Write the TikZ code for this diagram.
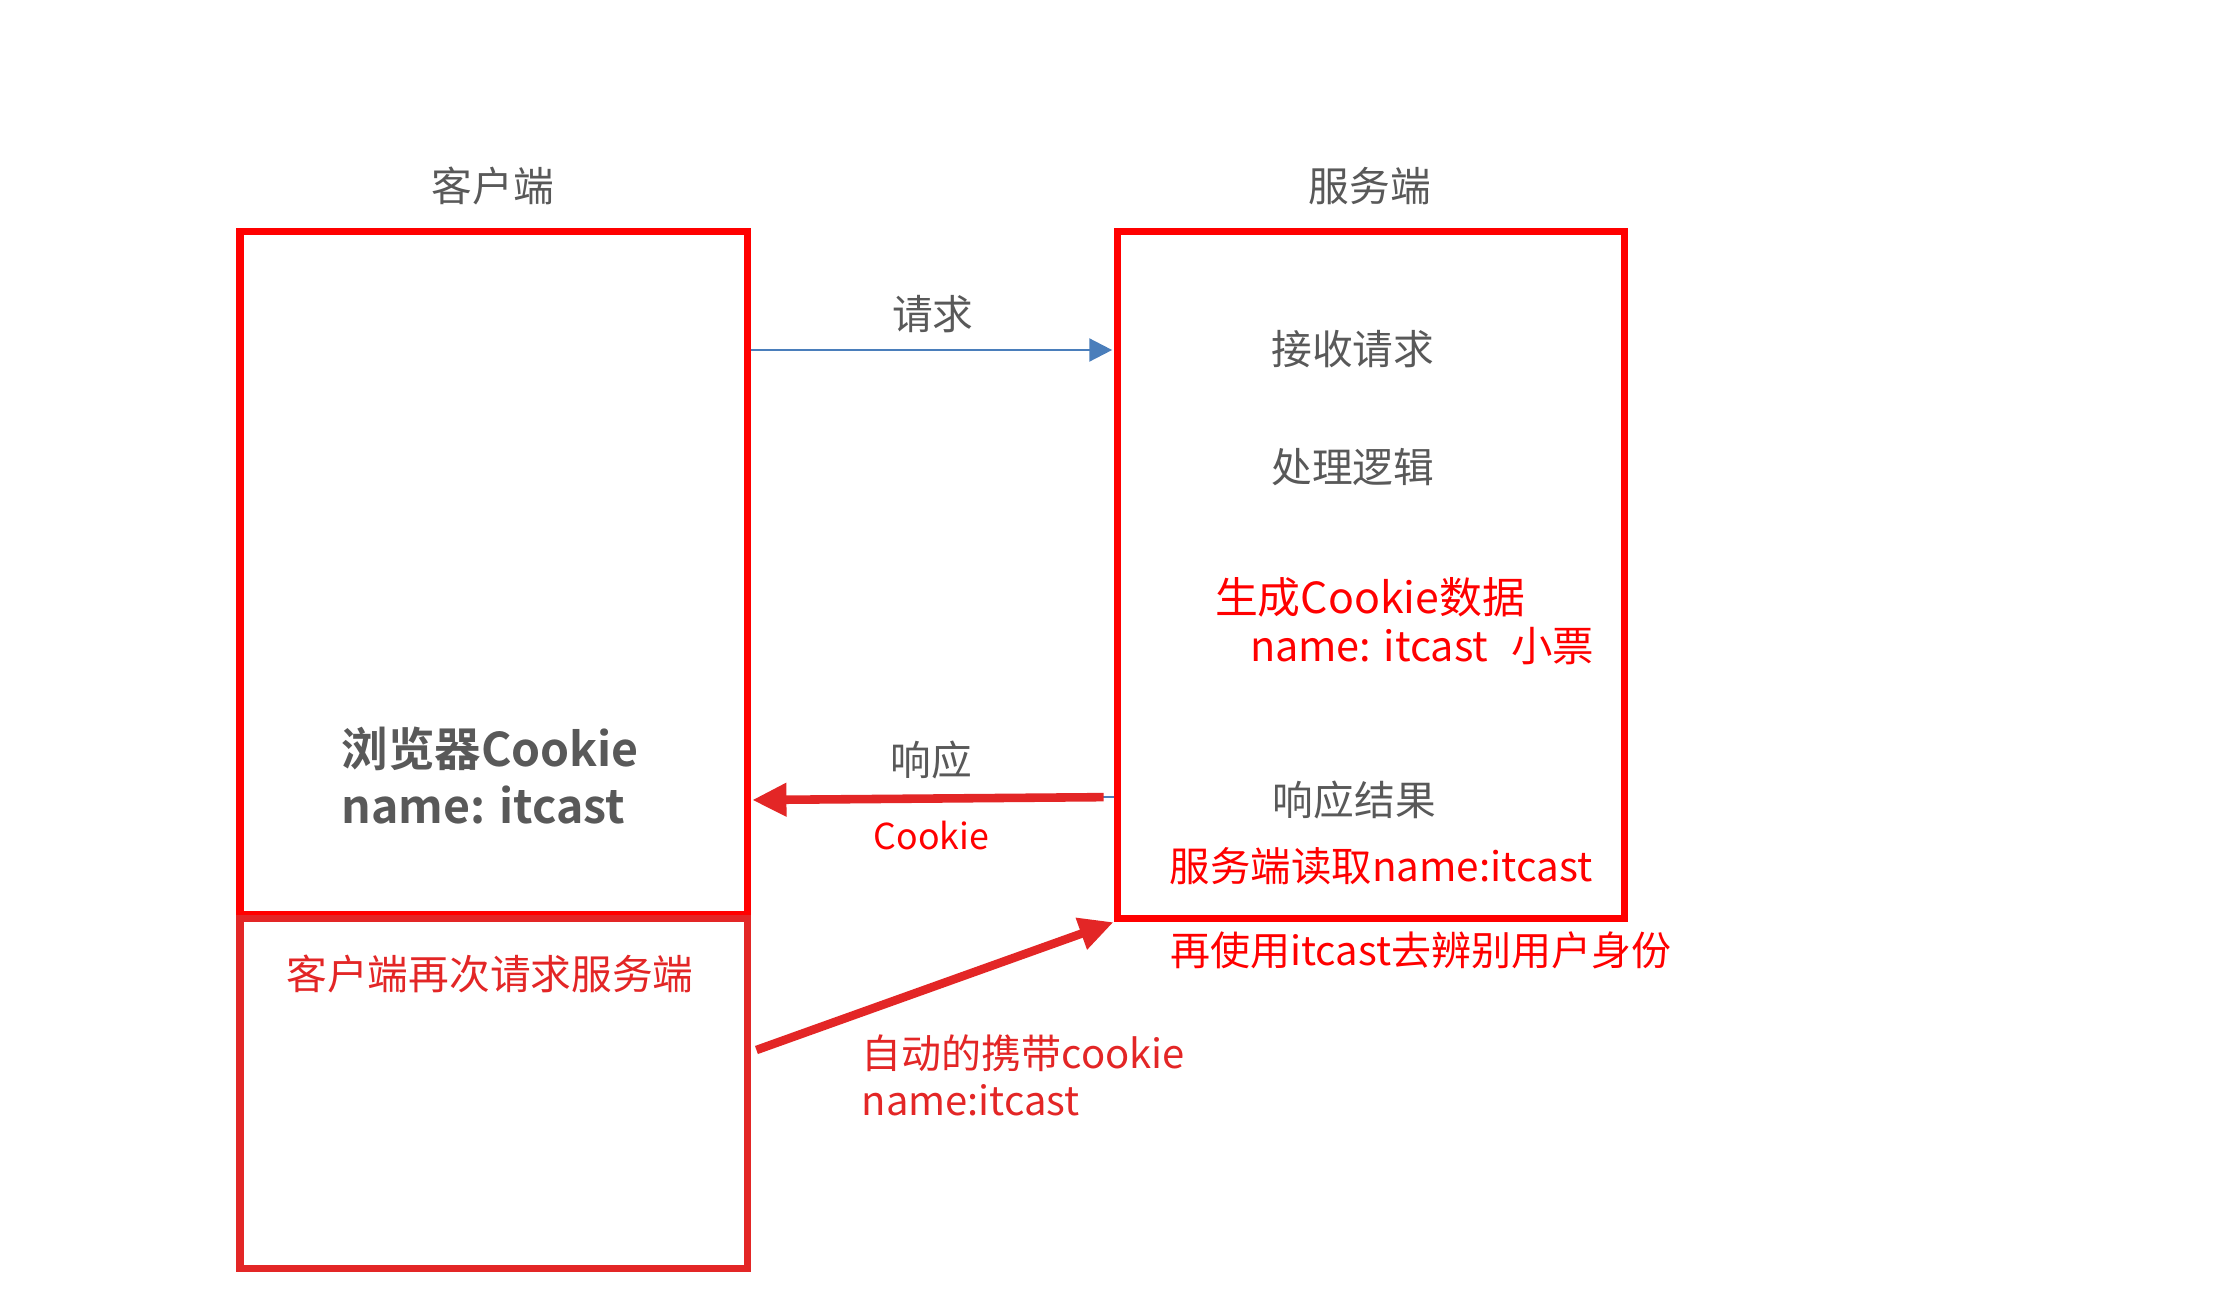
\documentclass[tikz,border=0pt]{standalone}
\usepackage{fontspec}
\setmainfont{Noto Sans CJK SC}[BoldFont={Noto Sans CJK SC Bold}]
\usetikzlibrary{arrows.meta}
\definecolor{txtgray}{HTML}{595959}
\definecolor{pureRed}{HTML}{FF0000}
\definecolor{darkRed}{HTML}{E32626}
\definecolor{reqBlue}{HTML}{4A7EBB}
\tikzset{
  box/.style={draw=pureRed, line width=5pt, minimum width=355pt, inner sep=0pt},
  graytxt/.style={text=txtgray, font=\fontsize{28.5}{34}\selectfont, inner sep=0pt},
  redtxt/.style={text=pureRed, font=\fontsize{29}{34}\selectfont, inner sep=0pt},
  drtxt/.style={text=darkRed, font=\fontsize{28}{33}\selectfont, inner sep=0pt},
  reqarrow/.style={draw=reqBlue, line width=1.8pt, -{Triangle[length=16pt,width=16pt]}},
  redarrow/.style={draw=darkRed, line width=6pt, -{Triangle[length=24pt,width=22pt]}},
}
\begin{document}
\begin{tikzpicture}[x=1pt,y=-1pt]
\useasboundingbox[fill=white] (0,0) rectangle (1568,904.4);
% boxes
\node[box, minimum height=478pt] (cli) at (345.5,401) {};
\node[box, draw=darkRed, minimum height=245pt] (low) at (345.5,765.5) {};
\node[box, minimum height=481pt] (srv) at (959.5,402.5) {};
% titles
\node[graytxt] (tcli) at (345,130) {客户端};
\node[graytxt] (tsrv) at (959,130) {服务端};
% server texts
\node[graytxt] (recv) at (947,244) {接收请求};
\node[graytxt] (proc) at (947,327) {处理逻辑};
\node[redtxt, font=\fontsize{30}{36}\selectfont] (gen) at (959,418) {生成Cookie数据};
\node[redtxt, anchor=east] (ticket) at (1116,452) {name: itcast\hspace{16pt}小票};
\node[graytxt] (result) at (948,560) {响应结果};
\node[redtxt, font=\fontsize{28.3}{34}\selectfont, anchor=east] (read) at (1115,606) {服务端读取name:itcast};
\node[drtxt, text=pureRed, anchor=west] (ident) at (819,665) {再使用itcast去辨别用户身份};
% client texts
\node[graytxt, font=\bfseries\fontsize{32.5}{40}\selectfont, anchor=west, align=left] (bc) at (239,543)
  {浏览器Cookie\\name: itcast};
\node[drtxt, font=\fontsize{28.5}{33}\selectfont] (again) at (343,682) {客户端再次请求服务端};
% arrow labels
\node[graytxt] (lreq) at (653,220) {请求};
\node[graytxt] (lresp) at (652,532) {响应};
\node[redtxt, font=\fontsize{25}{30}\selectfont] (lcookie) at (652,585) {Cookie};
\node[drtxt, anchor=west, align=left] (lauto) at (603,753) {自动的携带cookie\\name:itcast};
% connectors
\coordinate (yreq) at (0,245);
\coordinate (yresp1) at (0,558);
\coordinate (yresp2) at (0,560);
\coordinate (yauto) at (0,735);
\draw[reqarrow] (cli.east |- yreq) -- ([xshift=-1pt]srv.west |- yreq);
\draw[draw=reqBlue, line width=1.8pt] ([xshift=-8pt]srv.west |- yresp1) -- (srv.west |- yresp1);
\draw[redarrow] ([xshift=-7pt]srv.west |- yresp1) -- ([xshift=1pt]cli.east |- yresp2);
\draw[redarrow] ([xshift=4pt]low.east |- yauto) -- (srv.south west);
\end{tikzpicture}
\end{document}
